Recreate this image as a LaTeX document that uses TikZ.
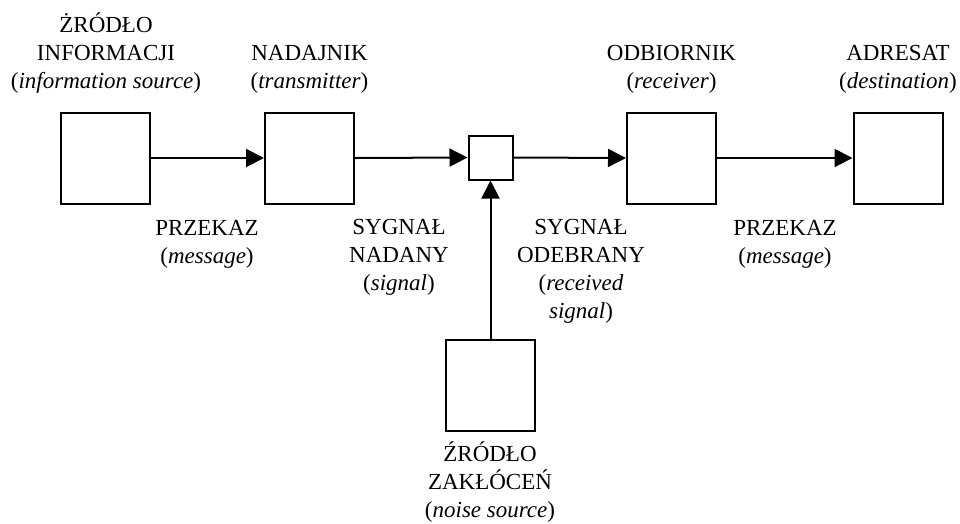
\documentclass[tikz,border=0pt]{standalone}
\usepackage{fontspec}
\setmainfont{Liberation Serif}
\usetikzlibrary{arrows.meta}
\tikzset{
  blk/.style={draw, line width=2pt, rectangle, inner sep=0pt, minimum width=89pt, minimum height=91pt},
  smallblk/.style={draw, line width=2pt, rectangle, inner sep=0pt, minimum width=44pt, minimum height=44pt},
  lbl/.style={align=center, anchor=base, inner sep=0pt, font=\fontsize{23}{28}\selectfont},
  conn/.style={line width=2pt, -{Triangle[length=18pt,width=18pt]}}
}
\begin{document}
\begin{tikzpicture}[x=1pt, y=-1pt]
\useasboundingbox (0,0) rectangle (960,523);
\node[blk] (src) at (105.3,158) {};
\node[blk] (tx) at (309.5,158) {};
\node[smallblk] (mix) at (490.5,157.5) {};
\node[blk] (rx) at (671.5,158) {};
\node[blk] (dst) at (898,158) {};
\node[blk] (noise) at (490.5,385) {};

\node[lbl] (srcl) at (106,88) {ŻRÓDŁO\\INFORMACJI\\(\textit{information source})};
\node[lbl] (txl) at (309.5,88) {NADAJNIK\\(\textit{transmitter})};
\node[lbl] (rxl) at (671.5,88) {ODBIORNIK\\(\textit{receiver})};
\node[lbl] (dstl) at (898,88) {ADRESAT\\(\textit{destination})};
\node[lbl] (msg1) at (207,263) {PRZEKAZ\\(\textit{message})};
\node[lbl] (sig1) at (399,290) {SYGNAŁ\\NADANY\\(\textit{signal})};
\node[lbl] (sig2) at (581,318) {SYGNAŁ\\ODEBRANY\\(\textit{received}\\\textit{signal})};
\node[lbl] (msg2) at (785,263) {PRZEKAZ\\(\textit{message})};
\node[lbl] (noisel) at (490,517) {ŹRÓDŁO\\ZAKŁÓCEŃ\\(\textit{noise source})};

\draw[conn] (src.east) -- (tx.west);
\draw[conn] (tx.east) -- (mix.west);
\draw[conn] (mix.east) -- (rx.west);
\draw[conn] (rx.east) -- (dst.west);
\draw[conn] (noise.north) -- (mix.south);
\end{tikzpicture}
\end{document}
